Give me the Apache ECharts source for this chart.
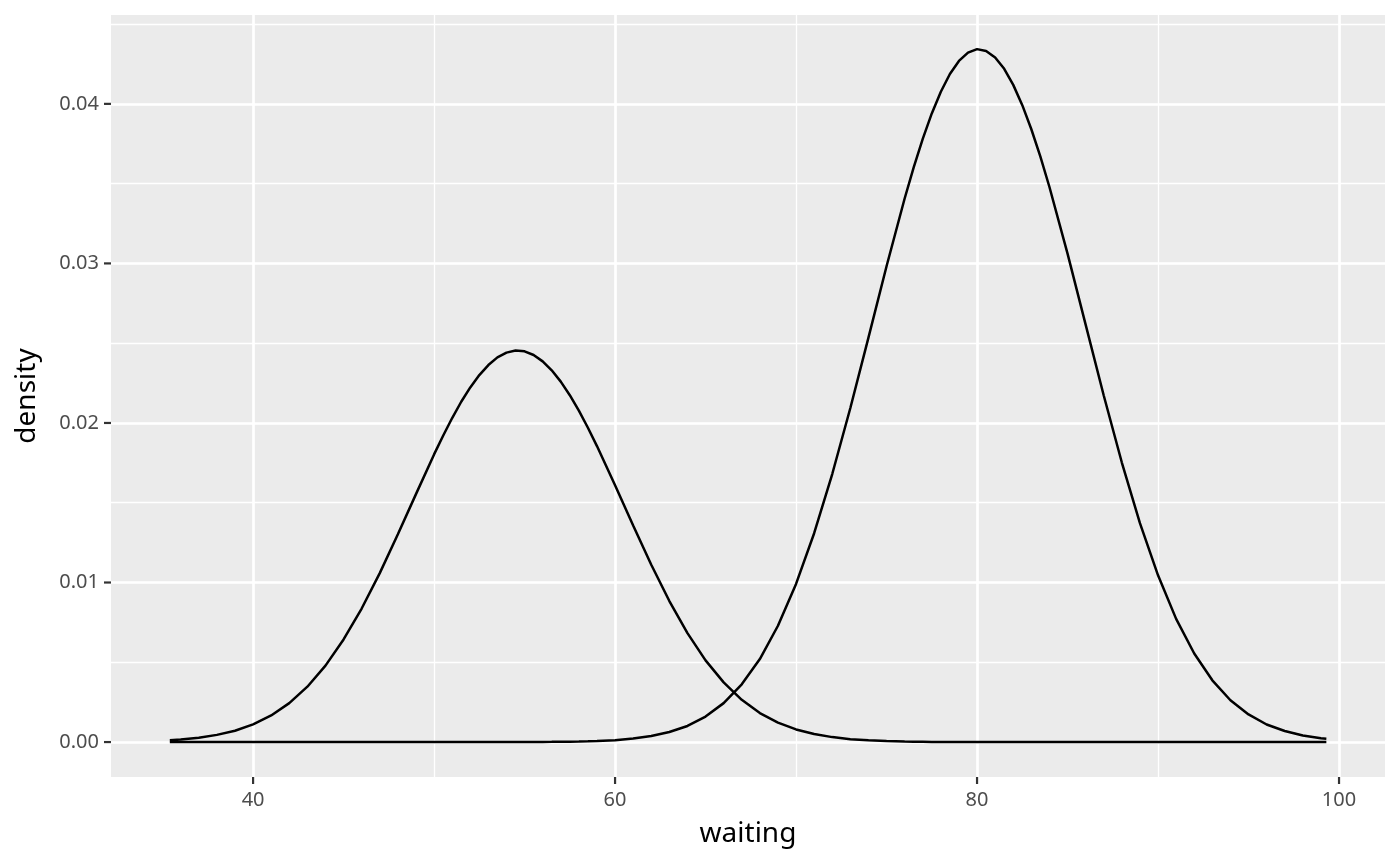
<!DOCTYPE html>
<html>
<head>
  <meta charset="UTF-8">
  <title>waiting density</title>
  <script src="https://cdn.jsdelivr.net/npm/echarts@6/dist/echarts.min.js"></script>
  <style type="text/css">
  html, body { margin: 0; padding: 0; background: #ffffff; }
  #chart { width: 1400px; height: 866px; }
  </style>
</head>
<body>
  <div id="chart"></div>

  <script>
    // waiting values where the curves were read (half steps round the peaks)
    var waiting = [35.4, 36, 37, 38, 39, 40, 41, 42, 43, 44, 45, 46, 47, 48, 49, 50,
      50.5, 51, 51.5, 52, 52.5, 53, 53.5, 54, 54.5, 55, 55.5, 56, 56.5, 57, 57.5, 58, 58.5,
      59, 60, 61, 62, 63, 64, 65, 66, 67, 68, 69, 70, 71, 72, 73, 74, 75, 76,
      76.5, 77, 77.5, 78, 78.5, 79, 79.5, 80, 80.5, 81, 81.5, 82, 82.5, 83, 83.5,
      84, 85, 86, 87, 88, 89, 90, 91, 92, 93, 94, 95, 96, 97, 98, 99, 99.3];

    // first (short) component
    var density1 = [0.00012, 0.00016, 0.00027, 0.00045, 0.00071, 0.00111, 0.00167, 0.00244, 0.00347, 0.00479,
      0.00643, 0.00837, 0.01059, 0.01302, 0.01554, 0.01803,
      0.01920, 0.02031, 0.02133, 0.02223, 0.02300, 0.02363, 0.02411, 0.02441, 0.02454, 0.02449,
      0.02426, 0.02386, 0.02330, 0.02259, 0.02174, 0.02077, 0.01970,
      0.01855, 0.01610, 0.01357, 0.01111, 0.00884, 0.00683, 0.00512, 0.00374, 0.00265, 0.00182,
      0.00122, 0.00079, 0.00050, 0.00031, 0.00018, 0.00011, 0.00006, 0.00003,
      0.00002, 0.00002, 0.00001, 0.00001, 0.00001, 0, 0, 0, 0, 0, 0, 0, 0, 0, 0,
      0, 0, 0, 0, 0, 0, 0, 0, 0, 0, 0, 0, 0, 0, 0, 0, 0];

    // second (tall) component
    var density2 = [0, 0, 0, 0, 0, 0, 0, 0, 0, 0, 0, 0, 0, 0, 0, 0,
      0, 0, 0, 0, 0, 0, 0, 0, 0, 0.000005, 0.000007, 0.00001, 0.000013, 0.00002, 0.000026, 0.000037, 0.00005,
      0.00007, 0.00012, 0.00022, 0.00038, 0.00063, 0.00101, 0.00160, 0.00244, 0.00362, 0.00520,
      0.00729, 0.00991, 0.01309, 0.01680, 0.02094, 0.02535, 0.02982, 0.03407,
      0.03602, 0.03781, 0.03940, 0.04076, 0.04187, 0.04269, 0.04321, 0.04343, 0.04332, 0.04291,
      0.04220, 0.04119, 0.03992, 0.03841, 0.03669,
      0.03479, 0.03061, 0.02616, 0.02172, 0.01752, 0.01372, 0.01045, 0.00772, 0.00555, 0.00387,
      0.00262, 0.00173, 0.00110, 0.00069, 0.00041, 0.00024, 0.00021];

    // labelled breaks (tick marks)
    var majorX = [40, 60, 80, 100];
    var majorY = [0, 0.01, 0.02, 0.03, 0.04];

    var xRange = [32.15, 102.54];
    var yRange = [-0.00219, 0.04557];

    function pairs(xs, ys) {
      var out = [];
      for (var i = 0; i < xs.length; i++) out.push([xs[i], ys[i]]);
      return out;
    }

    var chart = echarts.init(document.getElementById('chart'), null, {renderer: 'canvas'});
    var font = '"Noto Sans", "Open Sans", sans-serif';

    chart.setOption({
      animation: false,
      backgroundColor: '#ffffff',
      grid: {
        left: 111, right: 15, top: 15, bottom: 89,
        show: true, backgroundColor: '#EBEBEB', borderWidth: 0
      },
      xAxis: [{
        // major axis: labels, title
        type: 'value', min: xRange[0], max: xRange[1], splitNumber: 4,
        name: 'waiting', nameLocation: 'middle', nameGap: 43,
        nameTextStyle: {color: '#000000', fontSize: 28, fontFamily: font},
        axisLine: {show: false, onZero: false},
        axisTick: {show: false},
        axisLabel: {color: '#4D4D4D', fontSize: 20, fontFamily: font, margin: 13,
          showMinLabel: false, showMaxLabel: false},
        splitLine: {show: true, showMinLine: false, showMaxLine: false, lineStyle: {color: '#ffffff', width: 2.7}}
      }, {
        // minor grid lines only
        type: 'value', min: xRange[0], max: xRange[1], splitNumber: 7, position: 'bottom',
        axisLine: {show: false, onZero: false}, axisTick: {show: false}, axisLabel: {show: false},
        splitLine: {show: true, showMinLine: false, showMaxLine: false, lineStyle: {color: '#ffffff', width: 1.3}}
      }],
      yAxis: [{
        type: 'value', min: yRange[0], max: yRange[1], splitNumber: 5,
        name: 'density', nameLocation: 'middle', nameGap: 70, nameRotate: 90,
        nameTextStyle: {color: '#000000', fontSize: 28, fontFamily: font},
        axisLine: {show: false, onZero: false},
        axisTick: {show: false},
        axisLabel: {color: '#4D4D4D', fontSize: 20, fontFamily: font, margin: 12,
          showMinLabel: false, showMaxLabel: false,
          formatter: function (v) { return v.toFixed(2); }},
        splitLine: {show: true, showMinLine: false, showMaxLine: false, lineStyle: {color: '#ffffff', width: 2.7}}
      }, {
        type: 'value', min: yRange[0], max: yRange[1], splitNumber: 10, position: 'left',
        axisLine: {show: false, onZero: false}, axisTick: {show: false}, axisLabel: {show: false},
        splitLine: {show: true, showMinLine: false, showMaxLine: false, lineStyle: {color: '#ffffff', width: 1.3}}
      }],
      series: [{
        type: 'line', xAxisIndex: 0, yAxisIndex: 0,
        data: pairs(waiting, density1),
        showSymbol: false, smooth: false,
        lineStyle: {color: '#000000', width: 2.5}
      }, {
        type: 'line', xAxisIndex: 0, yAxisIndex: 0,
        data: pairs(waiting, density2),
        showSymbol: false, smooth: false,
        lineStyle: {color: '#000000', width: 2.5}
      }]
    });

    // tick marks placed through the axes' own scales
    var ticks = [];
    var bottom = chart.convertToPixel({yAxisIndex: 0}, yRange[0]);
    var left = chart.convertToPixel({xAxisIndex: 0}, xRange[0]);
    majorX.forEach(function (v) {
      var px = chart.convertToPixel({xAxisIndex: 0}, v);
      ticks.push({type: 'line', silent: true,
        shape: {x1: px, y1: bottom, x2: px, y2: bottom + 7},
        style: {stroke: '#333333', lineWidth: 2.2}});
    });
    majorY.forEach(function (v) {
      var py = chart.convertToPixel({yAxisIndex: 0}, v);
      ticks.push({type: 'line', silent: true,
        shape: {x1: left - 7, y1: py, x2: left, y2: py},
        style: {stroke: '#333333', lineWidth: 2.2}});
    });
    chart.setOption({graphic: ticks});
  </script>
</body>
</html>
